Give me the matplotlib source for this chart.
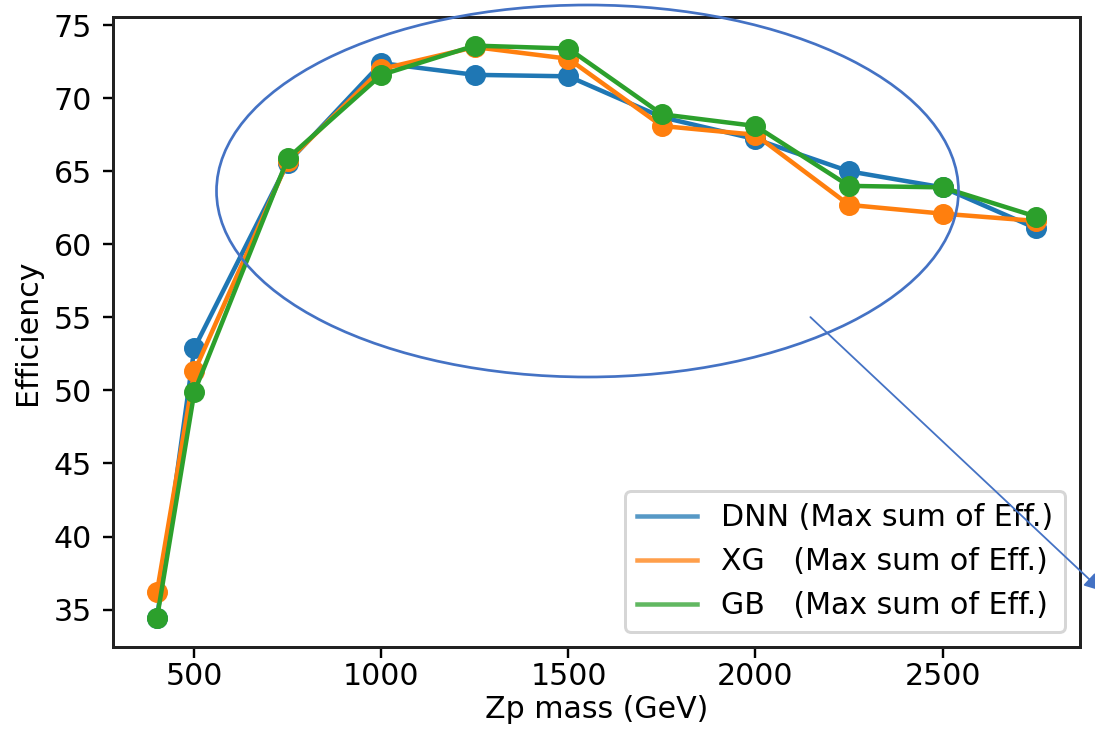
import matplotlib
matplotlib.use("Agg")
import matplotlib.pyplot as plt
from matplotlib.patches import Ellipse, FancyArrowPatch
from matplotlib.lines import Line2D

# Zp masses (GeV) and efficiencies
masses = [400, 500, 750, 1000, 1250, 1500, 1750, 2000, 2250, 2500, 2750]
dnn_eff = [34.4, 52.9, 65.6, 72.4, 71.6, 71.5, 68.7, 67.2, 65.0, 63.9, 61.1]
xg_eff = [36.2, 51.3, 65.7, 72.0, 73.5, 72.7, 68.1, 67.5, 62.7, 62.1, 61.6]
gb_eff = [34.4, 49.9, 65.9, 71.6, 73.6, 73.4, 68.9, 68.1, 64.0, 63.9, 61.9]

labels = ["DNN (Max sum of Eff.)", "XG   (Max sum of Eff.)", "GB   (Max sum of Eff.)"]
colors = ["tab:blue", "tab:orange", "tab:green"]

W, H = 1095, 734
fig = plt.figure(figsize=(W / 216, H / 216), dpi=216)
ax = fig.add_axes([113 / W, 1 - 647 / H, (1080 - 113) / W, (647 - 17) / H])

for y, c in zip([dnn_eff, xg_eff, gb_eff], colors):
    ax.plot(masses, y, "o-", color=c)

ax.tick_params(axis="x", pad=1.5)
ax.set_xlabel("Zp mass (GeV)", labelpad=1.5)
ax.set_ylabel("Efficiency")
for s in ax.spines.values():
    s.set_linewidth(1.0)
    s.set_edgecolor("#222222")

handles = [Line2D([], [], color=c, alpha=0.75) for c in colors]
ax.legend(handles, labels, loc="lower right")

# hand-drawn style annotation: ellipse round the plateau and an arrow leaving the figure
ring = Ellipse((587.5 / W, 1 - 191 / H), 742 / W, 372 / H, transform=fig.transFigure,
               fill=False, edgecolor="#4472C4", linewidth=0.9, zorder=10)
fig.add_artist(ring)
arrow = FancyArrowPatch((806 / W, 1 - 313 / H), (1106 / W, 1 - 595 / H),
                        transform=fig.transFigure, arrowstyle="-|>", mutation_scale=12,
                        color="#4472C4", linewidth=0.6, zorder=11)
fig.add_artist(arrow)

fig.savefig("out.png", dpi=216)
